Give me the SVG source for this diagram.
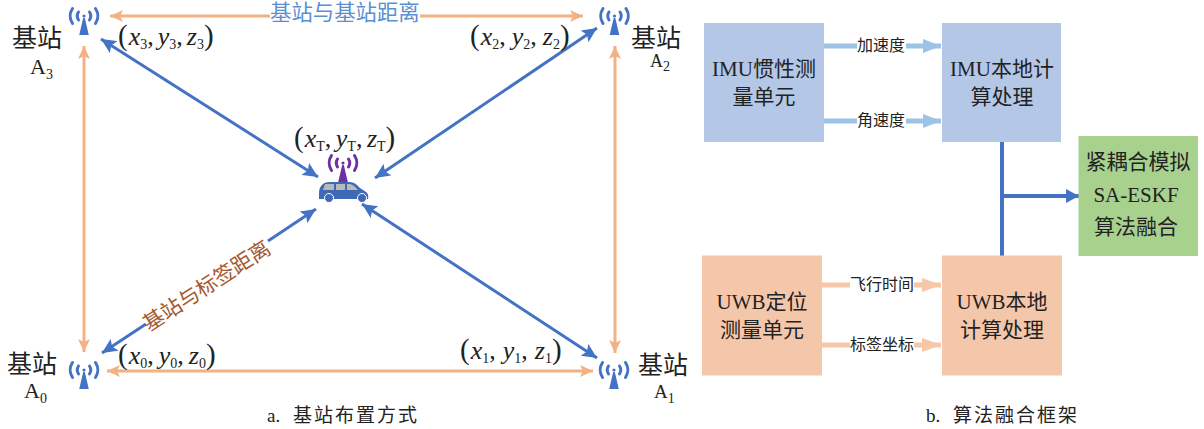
<svg xmlns="http://www.w3.org/2000/svg" xmlns:xlink="http://www.w3.org/1999/xlink" width="1204" height="429" viewBox="0 0 1204 429">
<style>
text{font-family:"Liberation Serif","Noto Sans CJK SC",serif;fill:#222}
.cn{font-size:25px}
.a{font-size:22px}
.sub{font-size:14px}
.m{font-size:26px}
.m .p{font-size:29px}
.box{font-size:21px;text-anchor:middle}
.lab{font-size:16px;text-anchor:middle}
.cap{font-size:19px}
.i{font-style:italic}
.o{fill:none;stroke:#f4b183;stroke-width:3}
.b{fill:none;stroke:#4472c4;stroke-width:3}
.lb{fill:none;stroke:#9dc3e6;stroke-width:5}
.lo{fill:none;stroke:#f6c7a9;stroke-width:5}
</style>
<defs>
<marker id="mo" markerUnits="userSpaceOnUse" markerWidth="14" markerHeight="12" refX="13" refY="6" orient="auto-start-reverse"><path d="M0 0L13 6L0 12L3 6Z" fill="#f4b183"/></marker>
<marker id="mb" markerUnits="userSpaceOnUse" markerWidth="16" markerHeight="14" refX="15" refY="7" orient="auto-start-reverse"><path d="M0 0L15 7L0 14L3 7Z" fill="#4472c4"/></marker>
<marker id="mlb" markerUnits="userSpaceOnUse" markerWidth="18" markerHeight="14" refX="18" refY="7" orient="auto"><path d="M0 0L18 7L0 14Z" fill="#9dc3e6"/></marker>
<marker id="mlo" markerUnits="userSpaceOnUse" markerWidth="19" markerHeight="14" refX="19" refY="7" orient="auto"><path d="M0 0L19 7L0 14Z" fill="#f6c7a9"/></marker>
<marker id="mB" markerUnits="userSpaceOnUse" markerWidth="13" markerHeight="14" refX="13" refY="7" orient="auto"><path d="M0 0L13 7L0 14Z" fill="#4472c4"/></marker>
<g id="ant" fill="none" stroke-width="3" stroke-linecap="round">
<circle r="1.6" fill="currentColor" stroke="none"/>
<path d="M-5.5 -4A7.5 7.5 0 0 0 -5.5 4M5.5 -4A7.5 7.5 0 0 1 5.5 4" stroke="currentColor"/>
<path d="M-11.5 -7.5A13.5 13.5 0 0 0 -11.5 7.5M11.5 -7.5A13.5 13.5 0 0 1 11.5 7.5" stroke="currentColor"/>
<path d="M-0.8 2H0.8L4.8 19H-4.8Z" fill="currentColor" stroke="none"/>
</g>
</defs>

<g id="connectors">
<path class="o" d="M270 16H110" marker-end="url(#mo)"/>
<path class="o" d="M420 16H583" marker-end="url(#mo)"/>
<path class="o" d="M84 46V352" marker-start="url(#mo)" marker-end="url(#mo)"/>
<path class="o" d="M615 46V353" marker-start="url(#mo)" marker-end="url(#mo)"/>
<path class="o" d="M107 371H593" marker-start="url(#mo)" marker-end="url(#mo)"/>
<path class="b" d="M101 39L318 177" marker-start="url(#mb)" marker-end="url(#mb)"/>
<path class="b" d="M375 178L597 28" marker-start="url(#mb)" marker-end="url(#mb)"/>
<path class="b" d="M362 204L597 358" marker-start="url(#mb)" marker-end="url(#mb)"/>
<path class="b" d="M146 324L102 353" marker-end="url(#mb)"/>
<path class="b" d="M268 241L316 209" marker-end="url(#mb)"/>
<path class="lb" d="M824 46H857"/>
<path class="lb" d="M906 46H941" marker-end="url(#mlb)"/>
<path class="lb" d="M824 121H857"/>
<path class="lb" d="M906 121H941" marker-end="url(#mlb)"/>
<path class="lo" d="M822 285H850"/>
<path class="lo" d="M914 285H941" marker-end="url(#mlo)"/>
<path class="lo" d="M822 345H850"/>
<path class="lo" d="M914 345H941" marker-end="url(#mlo)"/>
<path fill="none" stroke="#4472c4" stroke-width="4" stroke-linecap="round" d="M1002 142V256"/>
<path fill="none" stroke="#4472c4" stroke-width="4" d="M1002 196H1079" marker-end="url(#mB)"/>
</g>

<g id="A3"><use xlink:href="#ant" href="#ant" x="84" y="16" color="#4472c4"/>
<text class="cn" x="12" y="47">基站</text><text class="a" x="30" y="74">A<tspan class="sub" dy="5">3</tspan></text>
<text class="m" x="118" y="45"><tspan class="p">(</tspan><tspan class="i" dx="1">x</tspan><tspan class="sub" dy="4">3</tspan><tspan dy="-4">,</tspan><tspan class="i" dx="4">y</tspan><tspan class="sub" dy="4">3</tspan><tspan dy="-4">,</tspan><tspan class="i" dx="4">z</tspan><tspan class="sub" dy="4">3</tspan><tspan class="p" dy="-4">)</tspan></text></g>

<g id="A2"><use xlink:href="#ant" href="#ant" x="614.5" y="16" color="#4472c4"/>
<text class="cn" x="631" y="47">基站</text><text class="a" x="650" y="67" style="font-size:18px">A<tspan class="sub" dy="4">2</tspan></text>
<text class="m" x="470" y="45"><tspan class="p">(</tspan><tspan class="i" dx="1">x</tspan><tspan class="sub" dy="4">2</tspan><tspan dy="-4">,</tspan><tspan class="i" dx="6">y</tspan><tspan class="sub" dy="4">2</tspan><tspan dy="-4">,</tspan><tspan class="i" dx="6">z</tspan><tspan class="sub" dy="4">2</tspan><tspan class="p" dy="-4">)</tspan></text></g>

<g id="A0"><use xlink:href="#ant" href="#ant" x="84" y="370" color="#4472c4"/>
<text class="cn" x="7" y="373">基站</text><text class="a" x="24" y="398">A<tspan class="sub" dy="5">0</tspan></text>
<text class="m" x="118" y="364"><tspan class="p">(</tspan><tspan class="i" dx="1">x</tspan><tspan class="sub" dy="4">0</tspan><tspan dy="-4">,</tspan><tspan class="i" dx="5">y</tspan><tspan class="sub" dy="4">0</tspan><tspan dy="-4">,</tspan><tspan class="i" dx="5">z</tspan><tspan class="sub" dy="4">0</tspan><tspan class="p" dy="-4">)</tspan></text></g>

<g id="A1"><use xlink:href="#ant" href="#ant" x="614" y="370" color="#4472c4"/>
<text class="cn" x="638" y="374">基站</text><text class="a" x="654" y="398" style="font-size:19px">A<tspan class="sub" dy="5">1</tspan></text>
<text class="m" x="460" y="359"><tspan class="p">(</tspan><tspan class="i" dx="1">x</tspan><tspan class="sub" dy="4">1</tspan><tspan dy="-4">,</tspan><tspan class="i" dx="7">y</tspan><tspan class="sub" dy="4">1</tspan><tspan dy="-4">,</tspan><tspan class="i" dx="7">z</tspan><tspan class="sub" dy="4">1</tspan><tspan class="p" dy="-4">)</tspan></text></g>

<g id="tag"><use xlink:href="#ant" href="#ant" x="343" y="163" color="#7030a0"/>
<path d="M319 199V193Q319 187 323 184Q325 182 330 182H350Q355 182 360 188L366 192Q369 194 368 199Z" fill="#3f69b5"/>
<path d="M323 190L325 184H334V190ZM336 190V184H345V190ZM347 190V184H350Q354 185 358 190Z" fill="#b9b9b9"/>
<circle cx="329" cy="198" r="4.500" fill="#3f69b5" stroke="#fff" stroke-width="1"/><circle cx="362" cy="198" r="4.500" fill="#3f69b5" stroke="#fff" stroke-width="1"/>
<text class="m" x="294" y="147"><tspan class="p">(</tspan><tspan class="i" dx="1">x</tspan><tspan class="sub" dy="4">T</tspan><tspan dy="-4">,</tspan><tspan class="i" dx="4.500">y</tspan><tspan class="sub" dy="4">T</tspan><tspan dy="-4">,</tspan><tspan class="i" dx="4.500">z</tspan><tspan class="sub" dy="4">T</tspan><tspan class="p" dy="-4">)</tspan></text></g>

<text x="270" y="20" style="font-size:21.400px;fill:#5b8fd0">基站与基站距离</text>
<text transform="translate(149 332) rotate(-33)" style="font-size:21px;fill:#a5582e">基站与标签距离</text>

<g id="imu"><rect x="704" y="23" width="120" height="119" fill="#b4c7e7"/><text class="box" x="764" y="76">IMU惯性测</text><text class="box" x="764" y="104">量单元</text></g>
<g id="imu-local"><rect x="942" y="23" width="119" height="119" fill="#b4c7e7"/><text class="box" x="1002" y="76">IMU本地计</text><text class="box" x="1002" y="104">算处理</text></g>
<g id="uwb"><rect x="702" y="255.500" width="120" height="120" fill="#f4c7ab"/><text class="box" x="762" y="309">UWB定位</text><text class="box" x="762" y="337">测量单元</text></g>
<g id="uwb-local"><rect x="942" y="255.500" width="120" height="120" fill="#f4c7ab"/><text class="box" x="1002" y="309">UWB本地</text><text class="box" x="1002" y="337">计算处理</text></g>
<g id="fusion"><rect x="1078.500" y="136" width="119.500" height="120" fill="#a9d18e"/><text class="box" x="1138" y="169">紧耦合模拟</text><text class="box" x="1136" y="202">SA-ESKF</text><text class="box" x="1136" y="234">算法融合</text></g>

<text class="lab" x="881" y="51">加速度</text>
<text class="lab" x="881" y="126">角速度</text>
<text class="lab" x="882" y="290">飞行时间</text>
<text class="lab" x="882" y="350">标签坐标</text>

<text class="cap" x="267" y="422">a.</text><text class="cap" x="293" y="422" style="letter-spacing:2px">基站布置方式</text>
<text class="cap" x="926" y="422">b.</text><text class="cap" x="953" y="422" style="letter-spacing:2px">算法融合框架</text>
</svg>
